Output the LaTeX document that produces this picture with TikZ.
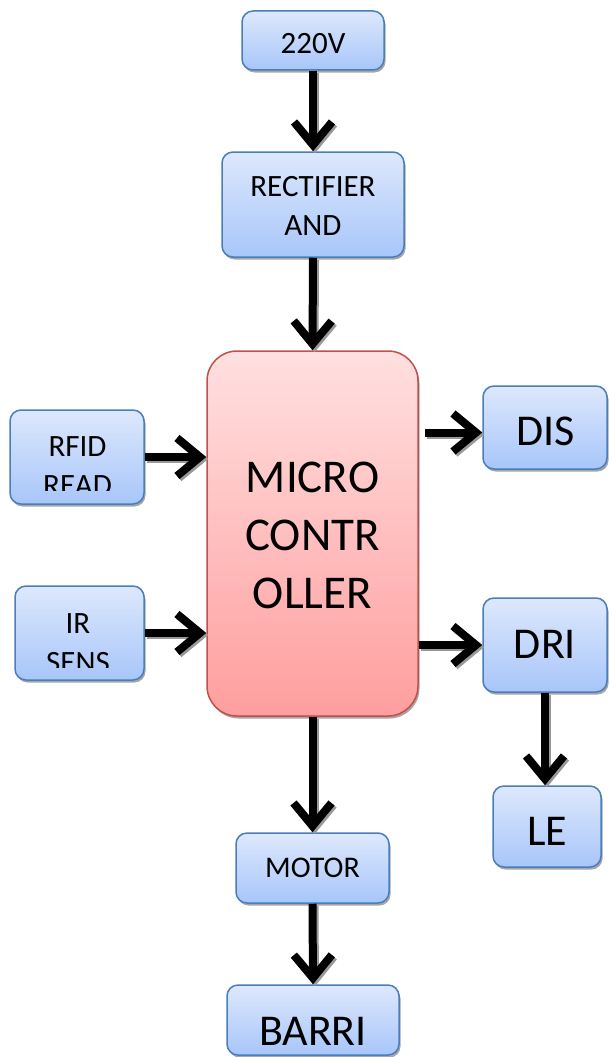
\documentclass[tikz,border=0pt]{standalone}
\usepackage{fontspec}
\setmainfont{Carlito}
\usetikzlibrary{arrows.meta,shadows,calc}
\definecolor{bluetop}{HTML}{DDE8FC}
\definecolor{bluebot}{HTML}{A8C6FA}
\definecolor{blueline}{HTML}{4A7EBB}
\definecolor{redtop}{HTML}{FFE0E0}
\definecolor{redbot}{HTML}{FF9E9E}
\definecolor{redline}{HTML}{C0504D}
\tikzset{
  bbox/.style={draw=blueline, line width=1.5pt, rounded corners=11pt,
    top color=bluetop, bottom color=bluebot, inner sep=0pt,
    drop shadow={shadow xshift=1.5pt, shadow yshift=-2.5pt, opacity=0.35, fill=black}},
  rbox/.style={draw=redline, line width=1.5pt, rounded corners=30pt,
    top color=redtop, bottom color=redbot, inner sep=0pt,
    drop shadow={shadow xshift=1.5pt, shadow yshift=-2.5pt, opacity=0.35, fill=black}},
  sm/.style={anchor=base, align=center, inner sep=0pt, font=\fontsize{31}{39}\selectfont},
  md/.style={anchor=base, align=center, inner sep=0pt, font=\fontsize{30}{38}\selectfont},
  lg/.style={anchor=base, align=center, inner sep=0pt, font=\fontsize{44}{52}\selectfont},
  xl/.style={anchor=base, align=center, inner sep=0pt, font=\fontsize{47}{58}\selectfont},
  tipx/.tip={Straight Barb[length=23pt,width=38pt,line width=8pt]},
  conn/.style={line width=8pt, -tipx,
    preaction={draw=black!40, line width=8pt, -tipx,
      transform canvas={xshift=2pt,yshift=-2pt}}},
}
\begin{document}
\begin{tikzpicture}[x=1pt,y=-1pt]
\useasboundingbox (0,0) rectangle (608,1057);
% boxes
\node[bbox, minimum width=142pt, minimum height=59pt] (v220) at (313,40.5) {};
\node[bbox, minimum width=182pt, minimum height=105pt] (rect) at (313,204.5) {};
\node[rbox, minimum width=211pt, minimum height=365pt] (micro) at (312.5,533.5) {};
\node[bbox, minimum width=134pt, minimum height=94pt] (rfid) at (77,457) {};
\node[bbox, minimum width=129pt, minimum height=94pt] (ir) at (79.5,633) {};
\node[bbox, minimum width=124pt, minimum height=83pt] (dis) at (545,427.5) {};
\node[bbox, minimum width=124pt, minimum height=94pt] (dri) at (545,645) {};
\node[bbox, minimum width=108pt, minimum height=81pt] (le) at (547,826.5) {};
\node[bbox, minimum width=153pt, minimum height=70pt] (motor) at (312.5,868) {};
\node[bbox, minimum width=172pt, minimum height=70pt] (barri) at (313,1020) {};
% texts
\node[sm] (v220t) at (313,53) {220V};
\node[sm] (rectt) at (313,235) {RECTIFIER\\AND};
\begin{scope}
  \clip (10,410) rectangle (144,490);
  \node[sm] (rfidt) at (77.5,495) {RFID\\READ};
\end{scope}
\begin{scope}
  \clip (15,586) rectangle (144,667);
  \node[sm] (irt) at (78,672) {IR\\SENS};
\end{scope}
\node[xl] (microt) at (312.5,608) {MICRO\\CONTR\\OLLER};
\node[lg] (dist) at (546,445) {DIS};
\node[lg] (drit) at (545,658) {DRI};
\node[lg] (let) at (547,845) {LE};
\node[md] (motort) at (312.5,877) {MOTOR};
\node[lg] (barrit) at (313,1045) {BARRI};
% connectors
\draw[conn] (v220.south) -- (rect.north);
\draw[conn] (rect.south) -- (micro.north);
\draw[conn] (rfid.east) -- (rfid.east -| micro.west);
\draw[conn] (ir.east) -- (ir.east -| micro.west);
\draw[conn] ([xshift=6pt,yshift=-5pt]micro.east |- dis.west) -- ([yshift=-5pt]dis.west);
\draw[conn] (micro.east |- dri.west) -- (dri.west);
\draw[conn] (dri.south) -- (dri.south |- le.north);
\draw[conn] (micro.south) -- (motor.north);
\draw[conn] (motor.south) -- (barri.north);
\end{tikzpicture}
\end{document}
